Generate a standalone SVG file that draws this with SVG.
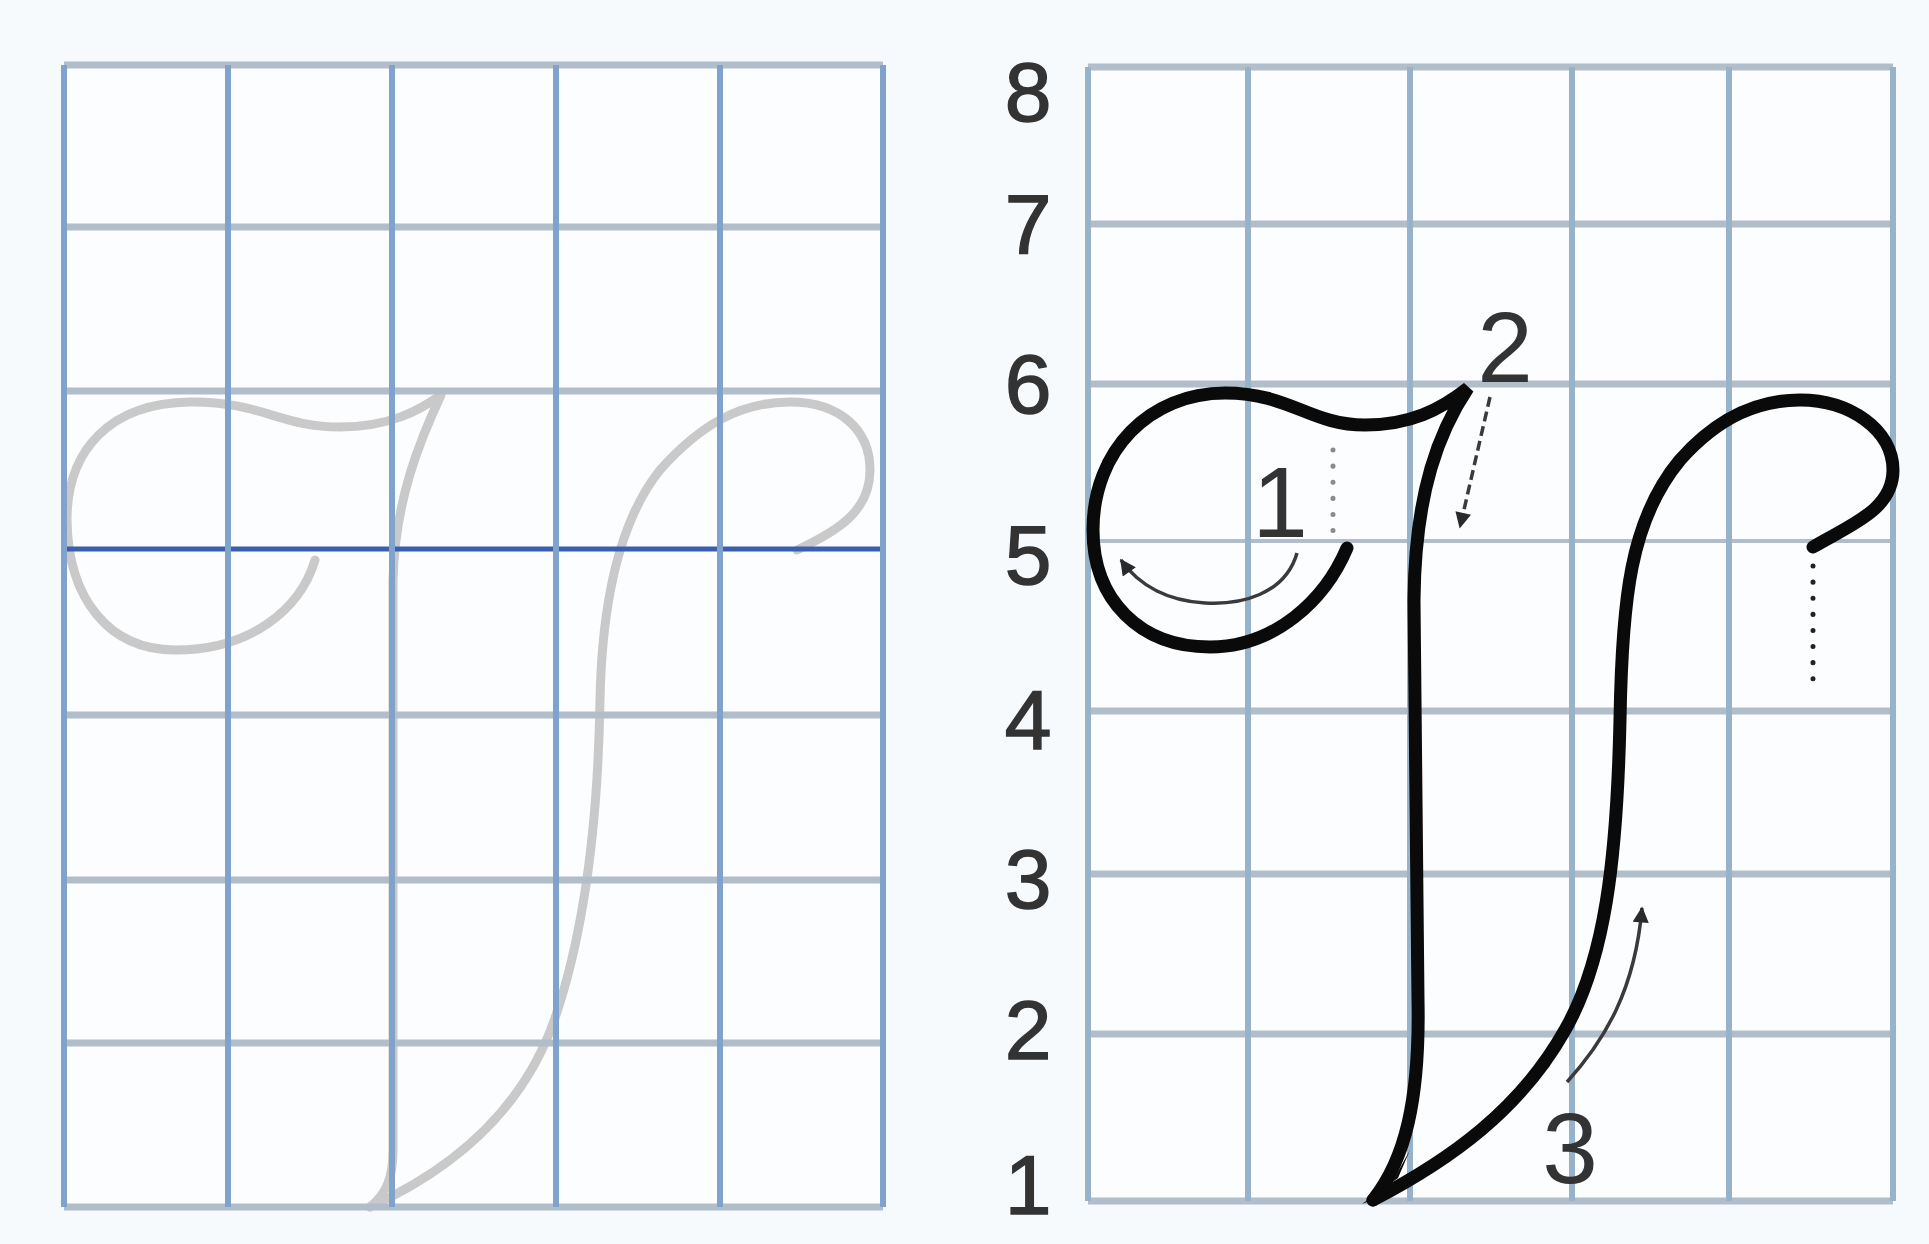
<svg xmlns="http://www.w3.org/2000/svg" width="1929" height="1244" viewBox="0 0 1929 1244">
<style>
.hl{stroke:#b1bec9;stroke-width:7;fill:none}
.vl{stroke:#7fa3cc;stroke-width:6;fill:none}
.vr{stroke:#97b3ca;stroke-width:6;fill:none}
.base{stroke:#3a5fae;stroke-width:5;fill:none}
.ghost{stroke:#c9c9c9;stroke-width:9;fill:none;stroke-linecap:round;stroke-linejoin:round}
.ink{stroke:#0a0a0a;stroke-width:13;fill:none;stroke-linecap:round}
.guide{stroke:#3a3a3a;stroke-width:3.5;fill:none}
.dots{stroke-width:5;fill:none;stroke-linecap:round;stroke-dasharray:0.1 16}
.row{font-family:"Liberation Sans",Arial,sans-serif;font-size:84px;fill:#333;stroke:#333;stroke-width:1.5;text-anchor:middle}
.step{font-family:"Liberation Sans",Arial,sans-serif;font-size:100px;fill:#333;text-anchor:middle}
</style>
<defs>
<marker id="ah" viewBox="0 0 10 10" refX="9" refY="5" markerWidth="22" markerHeight="16" markerUnits="userSpaceOnUse" orient="auto">
<path d="M0,0 L10,5 L0,10 Z" fill="#2a2a2a"/>
</marker>
</defs>
<rect x="0" y="0" width="1929" height="1244" fill="#f6fafd"/>

<g id="left-grid">
<rect x="64" y="65" width="819" height="1142" fill="#fcfdff"/>
<g id="left-ghost-letter">
<path class="ghost" d="M315,560 C300,610 250,650 175,650 C110,650 68,600 67,520 C67,450 110,403 190,402 C260,401 280,427 340,427 C390,427 420,410 441,395 C420,440 395,500 393,580 L393,1150 C393,1180 385,1195 370,1207"/>
<path class="ghost" d="M370,1207 C440,1175 520,1120 555,1018 C585,930 598,820 600,700 C602,600 620,520 660,470 C700,425 740,402 790,402 C840,402 870,430 870,470 C870,510 840,530 797,550"/>
</g>
<path class="hl" d="M64,65 H883 M64,227 H883 M64,391 H883 M64,715 H883 M64,880 H883 M64,1043 H883 M64,1207 H883"/>
<path class="base" d="M64,549 H883"/>
<path class="vl" d="M64,65 V1207 M228,65 V1207 M392,65 V1207 M556,65 V1207 M720,65 V1207 M883,65 V1207"/>
</g>

<g id="right-grid">
<rect x="1088" y="67" width="805" height="1134" fill="#fcfdff"/>
<path class="hl" d="M1088,67 H1893 M1088,224 H1893 M1088,384 H1893 M1088,711 H1893 M1088,874 H1893 M1088,1034 H1893 M1088,1201 H1893"/>
<path class="hl" style="stroke-width:4" d="M1088,541 H1893"/>
<path class="vr" d="M1088,67 V1201 M1248,67 V1201 M1410,67 V1201 M1572,67 V1201 M1729,67 V1201 M1893,67 V1201"/>
</g>

<g id="row-labels">
<text class="row" x="1028" y="121">8</text>
<text class="row" x="1028" y="253">7</text>
<text class="row" x="1028" y="413">6</text>
<text class="row" x="1028" y="584">5</text>
<text class="row" x="1028" y="749">4</text>
<text class="row" x="1028" y="908">3</text>
<text class="row" x="1028" y="1059">2</text>
<text class="row" x="1028" y="1214">1</text>
</g>

<g id="letter">
<path id="stroke-1" class="ink" stroke-linejoin="miter" d="M1347,548 C1325,600 1275,647 1210,647 C1140,647 1093,600 1093,530 C1093,450 1150,393 1225,393 C1290,393 1310,425 1365,425 C1410,425 1440,410 1468,388 C1440,430 1415,490 1414,600 L1418,1000 C1420,1100 1405,1160 1373,1200"/>
<path id="stroke-3" class="ink" d="M1373,1200 C1450,1160 1520,1110 1565,1030 C1605,960 1617,860 1620,720 C1622,600 1630,520 1680,460 C1720,415 1760,400 1800,400 C1850,400 1893,430 1893,470 C1893,510 1850,525 1813,547"/>
<path fill="#0a0a0a" d="M1362,1204 L1398,1178 L1410,1150 L1385,1195 Z"/>
<path class="dots" stroke="#8a8a8a" d="M1333,450 V533"/>
<path class="dots" stroke="#222" d="M1813,566 V693"/>
</g>

<g id="connectors">
<path class="guide" marker-end="url(#ah)" d="M1297,553 C1285,595 1240,605 1205,603 C1170,601 1140,587 1121,560"/>
<path class="guide" stroke-dasharray="10 5" marker-end="url(#ah)" d="M1490,397 L1460,527"/>
<path class="guide" marker-end="url(#ah)" d="M1567,1082 C1605,1040 1635,990 1642,908"/>
</g>

<g id="step-labels">
<text class="step" x="1280" y="537">1</text>
<text class="step" x="1505" y="382">2</text>
<text class="step" x="1570" y="1183">3</text>
</g>
</svg>
